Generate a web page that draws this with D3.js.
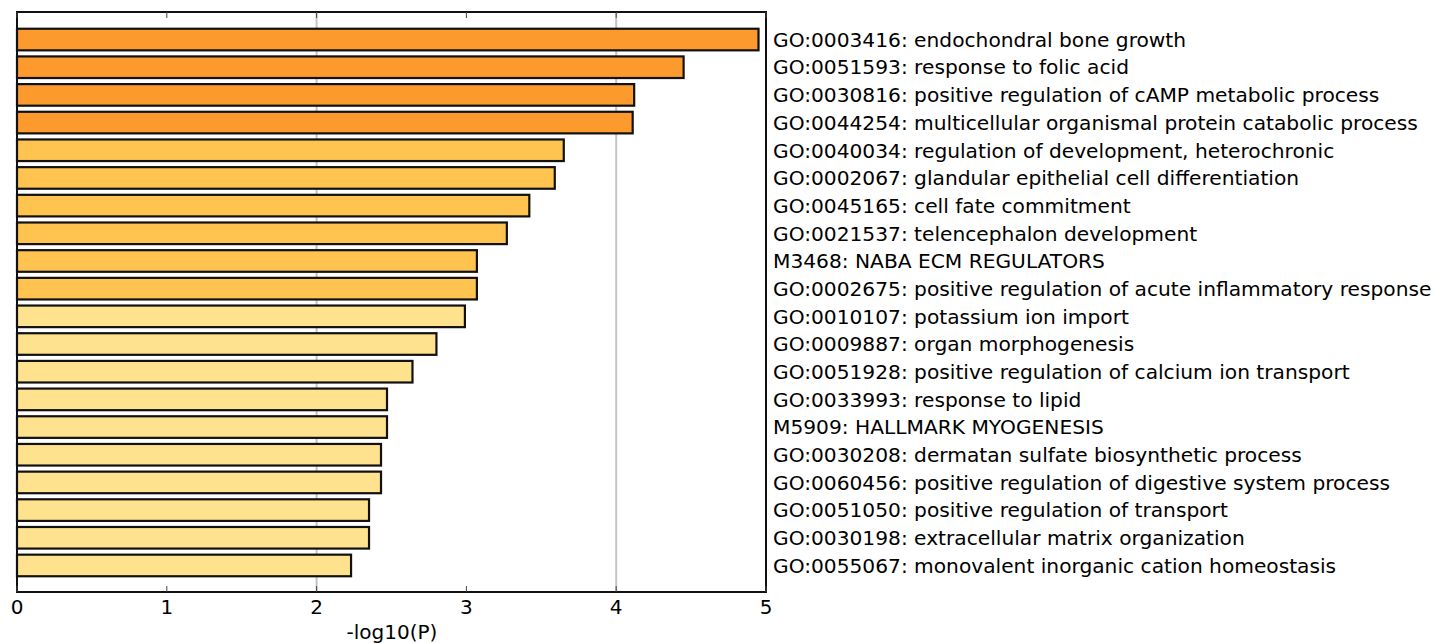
<!DOCTYPE html>
<html>
<head>
<meta charset="utf-8">
<script src="https://cdn.jsdelivr.net/npm/d3@7"></script>
<style>
  body { margin: 0; background: #fff; }
  text { font-family: "DejaVu Sans", sans-serif; fill: #000; }
</style>
</head>
<body>
<div id="chart"></div>
<script>
// ── Data ─────────────────────────────────────────────────────
const terms = [
  "GO:0003416: endochondral bone growth",
  "GO:0051593: response to folic acid",
  "GO:0030816: positive regulation of cAMP metabolic process",
  "GO:0044254: multicellular organismal protein catabolic process",
  "GO:0040034: regulation of development, heterochronic",
  "GO:0002067: glandular epithelial cell differentiation",
  "GO:0045165: cell fate commitment",
  "GO:0021537: telencephalon development",
  "M3468: NABA ECM REGULATORS",
  "GO:0002675: positive regulation of acute inflammatory response",
  "GO:0010107: potassium ion import",
  "GO:0009887: organ morphogenesis",
  "GO:0051928: positive regulation of calcium ion transport",
  "GO:0033993: response to lipid",
  "M5909: HALLMARK MYOGENESIS",
  "GO:0030208: dermatan sulfate biosynthetic process",
  "GO:0060456: positive regulation of digestive system process",
  "GO:0051050: positive regulation of transport",
  "GO:0030198: extracellular matrix organization",
  "GO:0055067: monovalent inorganic cation homeostasis"
];

const logP = [
  4.95, 4.45, 4.12, 4.11, 3.65, 3.59, 3.42, 3.27, 3.07, 3.07,
  2.99, 2.80, 2.64, 2.47, 2.47, 2.43, 2.43, 2.35, 2.35, 2.23
];

// colour tier per bar (0 = strongest)
const tier = [0,0,0,0,1,1,1,1,1,1,2,2,2,2,2,2,2,2,2,2];
const TIER_COLORS = ["#fd9a2e", "#ffc44f", "#ffe28e"];

const xTicks = [0, 1, 2, 3, 4, 5];
const gridTicks = [2, 4];

// ── Layout ───────────────────────────────────────────────────
const W = 1435, H = 643;
const frame = { left: 17, right: 766, top: 12, bottom: 592 };

const svg = d3.select("#chart").append("svg")
  .attr("width", W).attr("height", H);

const x = d3.scaleLinear().domain([0, 5]).range([frame.left, frame.right]);

const y = d3.scaleBand()
  .domain(d3.range(terms.length))
  .range([25.7, 579.3])
  .paddingInner(0.22)
  .paddingOuter(0.11);

// gridlines
svg.append("g").selectAll("line")
  .data(gridTicks)
  .enter().append("line")
  .attr("x1", d => x(d)).attr("x2", d => x(d))
  .attr("y1", frame.top).attr("y2", frame.bottom)
  .attr("stroke", "#c4c4c4")
  .attr("stroke-width", 2);

// bars
svg.append("g").selectAll("rect")
  .data(logP)
  .enter().append("rect")
  .attr("x", x(0))
  .attr("y", (d, i) => y(i))
  .attr("width", d => x(d) - x(0))
  .attr("height", y.bandwidth())
  .attr("fill", (d, i) => TIER_COLORS[tier[i]])
  .attr("stroke", "#111")
  .attr("stroke-width", 2.2);

// frame
svg.append("rect")
  .attr("x", frame.left).attr("y", frame.top)
  .attr("width", frame.right - frame.left)
  .attr("height", frame.bottom - frame.top)
  .attr("fill", "none")
  .attr("stroke", "#111")
  .attr("stroke-width", 2);

// inward ticks top and bottom
const tickG = svg.append("g");
xTicks.forEach(t => {
  tickG.append("line")
    .attr("x1", x(t)).attr("x2", x(t))
    .attr("y1", frame.bottom).attr("y2", frame.bottom - 6)
    .attr("stroke", "#444").attr("stroke-width", 1);
  tickG.append("line")
    .attr("x1", x(t)).attr("x2", x(t))
    .attr("y1", frame.top).attr("y2", frame.top + 6)
    .attr("stroke", "#444").attr("stroke-width", 1);
});

// tick labels
svg.append("g").selectAll("text")
  .data(xTicks)
  .enter().append("text")
  .attr("x", d => x(d))
  .attr("y", 614)
  .attr("text-anchor", "middle")
  .attr("font-size", "20px")
  .text(d => d);

// axis title
svg.append("text")
  .attr("x", 392)
  .attr("y", 639)
  .attr("text-anchor", "middle")
  .attr("font-size", "20px")
  .text("-log10(P)");

// term labels on the right
svg.append("g").selectAll("text")
  .data(terms)
  .enter().append("text")
  .attr("x", 773)
  .attr("y", (d, i) => y(i) + y.bandwidth() / 2)
  .attr("dy", "0.36em")
  .attr("font-size", "20.2px")
  .text(d => d);
</script>
</body>
</html>
